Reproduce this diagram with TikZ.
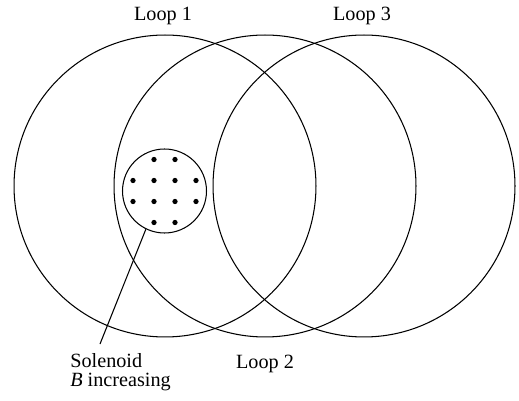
\documentclass[tikz,border=0pt]{standalone}
\usepackage{fontspec}
\setmainfont{Liberation Serif}
\usetikzlibrary{positioning}

\begin{document}
\begin{tikzpicture}[
    x=0.02cm, y=-0.02cm,
    loopring/.style={circle, draw, line width=0.6pt, minimum size=6.04cm, inner sep=0pt},
    solring/.style={circle, draw, line width=0.6pt, minimum size=1.68cm, inner sep=0pt},
    looplabel/.style={inner sep=0pt, font=\fontsize{11.5}{11}\selectfont},
    leader/.style={line width=0.6pt}
]
\useasboundingbox (0,0) rectangle (519,401);

% the three loops
\node[loopring] (loop1) at (165,186) {};
\node[loopring] (loop2) at (265,186) {};
\node[loopring] (loop3) at (364,186) {};

\node[looplabel, above=0.18cm of loop1.north, xshift=-0.04cm] (loop1_label) {Loop 1};
\node[looplabel, below=0.34cm of loop2.south] (loop2_label) {Loop 2};
\node[looplabel, above=0.18cm of loop3.north, xshift=-0.04cm] (loop3_label) {Loop 3};

% solenoid with field dots
\node[solring] (sol) at (164.5,191) {};
\foreach \dx/\dy in {-10.5/-31.5, 10.5/-31.5,
                     -31.5/-10.5, -10.5/-10.5, 10.5/-10.5, 31.5/-10.5,
                     -31.5/10.5, -10.5/10.5, 10.5/10.5, 31.5/10.5,
                     -10.5/31.5, 10.5/31.5}
    \fill[shift={(sol.center)}] (\dx,\dy) circle (1.5pt);

\node[looplabel, align=left, anchor=north west] (sol_label) at (70,353) {Solenoid\\\textit{B} increasing};
\coordinate (lead_end) at (100,344);
\draw[leader] (sol.244) -- (lead_end);

\end{tikzpicture}
\end{document}
